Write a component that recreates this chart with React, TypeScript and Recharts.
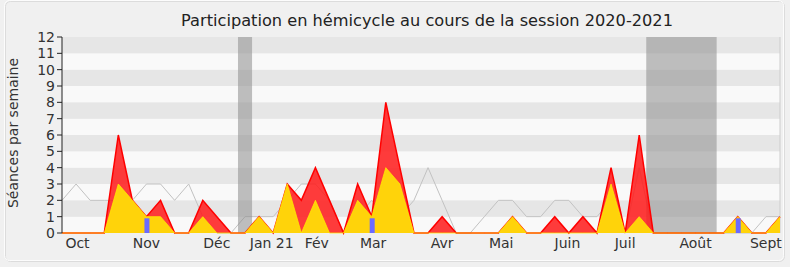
import {
  Area,
  Bar,
  ComposedChart,
  ReferenceArea,
  ReferenceLine,
  XAxis,
  YAxis,
} from "recharts"

// semaines de la session (index 0 = fin septembre 2020)
const weeks = Array.from({ length: 52 }, (_, i) => i)

// présences en séance (zone rouge)
const presences = [
  0, 0, 0, 0, 6, 2, 1, 2, 0, 0, 2, 1, 0, 0, 1, 0, 3, 2, 4, 2, 0, 3, 1, 8, 4, 0,
  0, 1, 0, 0, 0, 0, 1, 0, 0, 1, 0, 1, 0, 4, 0, 6, 0, 0, 0, 0, 0, 0, 1, 0, 0, 1,
]

// interventions (zone jaune)
const interventions = [
  0, 0, 0, 0, 3, 2, 1, 1, 0, 0, 1, 0, 0, 0, 1, 0, 3, 0, 2, 0, 0, 2, 1, 4, 3, 0,
  0, 0, 0, 0, 0, 0, 1, 0, 0, 0, 0, 0, 0, 3, 0, 1, 0, 0, 0, 0, 0, 0, 1, 0, 0, 1,
]

// questions orales (barres bleues)
const questions = [
  0, 0, 0, 0, 0, 0, 0.9, 0, 0, 0, 0, 0, 0, 0, 0, 0, 0, 0, 0, 0, 0, 0, 0.9, 0, 0, 0,
  0, 0, 0, 0, 0, 0, 0, 0, 0, 0, 0, 0, 0, 0, 0, 0, 0, 0, 0, 0, 0, 0, 0.9, 0, 0, 0,
]

// médiane des députés (ligne grise)
const mediane = [
  2, 3, 2, 2, 2, 2, 3, 3, 2, 3, 1, 0, 0, 1, 1, 1, 2, 3, 3, 2, 0, 1, 2, 1, 1, 2,
  4, 2, 0, 0, 1, 2, 2, 1, 1, 2, 2, 1, 1, 2, 0, 4, 0, 0, 0, 0, 0, 0, 0, 0, 1, 1,
]

const months = ["Oct", "Nov", "Déc", "Jan 21", "Fév", "Mar", "Avr", "Mai", "Juin", "Juil", "Août", "Sept"]
const monthPos = [1.1, 6.0, 11.0, 14.9, 18.1, 22.1, 27.0, 31.2, 35.9, 40.0, 45.0, 50.0]

const vacances = [
  [12.5, 13.5],
  [41.5, 46.5],
]

const yTicks = [0, 1, 2, 3, 4, 5, 6, 7, 8, 9, 10, 11, 12]

const data = weeks.map((k, i) => ({
  k,
  presences: presences[i],
  interventions: interventions[i],
  questions: questions[i],
  mediane: mediane[i],
}))

const font = "DejaVu Sans, sans-serif"

export default function App() {
  return (
    <div
      style={{
        position: "fixed",
        left: 0,
        top: 0,
        width: 790,
        height: 267,
        background: "#f0f0f0",
        fontFamily: font,
      }}
    >
      <svg width={790} height={267} style={{ position: "absolute", left: 0, top: 0 }}>
        <rect x={5.5} y={1.5} width={779} height={260} rx={5} fill="none" stroke="#dcdcdc" />
        <rect x={4.5} y={0.5} width={779} height={260} rx={5} fill="none" stroke="#fcfcfc" />
        <text x={427} y={26} textAnchor="middle" fontSize={16.2} fill="#222" fontFamily={font}>
          Participation en hémicycle au cours de la session 2020-2021
        </text>
        <text
          x={0}
          y={0}
          transform="translate(18,133) rotate(-90)"
          textAnchor="middle"
          fontSize={14}
          fill="#333"
          fontFamily={font}
        >
          Séances par semaine
        </text>
      </svg>
      <div style={{ position: "absolute", left: 0, top: 0 }}>
        <ComposedChart
          width={790}
          height={267}
          data={data}
          margin={{ top: 37, right: 10, bottom: 0, left: 0 }}
        >
          <XAxis
            dataKey="k"
            type="number"
            domain={[0, 51]}
            ticks={weeks}
            height={0}
            tick={false}
            tickSize={5}
            stroke="#222"
            tickLine={{ stroke: "#222" }}
            axisLine={{ stroke: "#222" }}
          />
          <XAxis
            xAxisId="m"
            dataKey="k"
            type="number"
            domain={[0, 51]}
            ticks={monthPos}
            tickFormatter={(v) => months[monthPos.indexOf(v)]}
            height={34}
            tickLine={false}
            axisLine={false}
            tickSize={5}
            tickMargin={0}
            tick={{ fill: "#333", fontSize: 14, fontFamily: font }}
            interval={0}
          />
          <XAxis
            xAxisId="t"
            orientation="top"
            dataKey="k"
            type="number"
            domain={[0, 51]}
            ticks={weeks}
            height={0}
            tick={false}
            tickSize={2}
            axisLine={false}
            tickLine={{ stroke: "#444", strokeDasharray: "1 1" }}
          />
          <YAxis
            type="number"
            domain={[0, 12]}
            ticks={yTicks}
            width={62}
            interval={0}
            tickSize={5}
            tickMargin={2}
            stroke="#222"
            tick={{ fill: "#333", fontSize: 14, fontFamily: font }}
          />
          {yTicks.slice(0, -1).map((t) => (
            <ReferenceArea
              key={"s" + t}
              y1={t}
              y2={t + 1}
              fill={t % 2 === 0 ? "#f9f9f9" : "#e6e6e6"}
              fillOpacity={1}
              stroke="none"
              zIndex={-60}
            />
          ))}
          <ReferenceLine x={51} stroke="#cccccc" zIndex={-55} />
          <Area
            dataKey="mediane"
            type="linear"
            stroke="#c2c2c2"
            strokeWidth={1}
            fill="none"
            zIndex={-50}
            isAnimationActive={false}
          />
          {vacances.map(([a, b]) => (
            <ReferenceArea
              key={"v" + a}
              x1={a}
              x2={b}
              fill="#8c8c8c"
              fillOpacity={0.55}
              stroke="none"
              zIndex={-40}
            />
          ))}
          <Area
            dataKey="presences"
            type="linear"
            fill="#ff1a1a"
            fillOpacity={0.85}
            stroke="#ff0000"
            strokeWidth={1.5}
            isAnimationActive={false}
          />
          <Area
            dataKey="interventions"
            type="linear"
            fill="#ffd30a"
            fillOpacity={1}
            stroke="#ffee00"
            strokeOpacity={0.75}
            strokeWidth={1}
            isAnimationActive={false}
          />
          <Bar dataKey="questions" fill="#6b6bff" barSize={5} isAnimationActive={false} />
        </ComposedChart>
      </div>
    </div>
  )
}
